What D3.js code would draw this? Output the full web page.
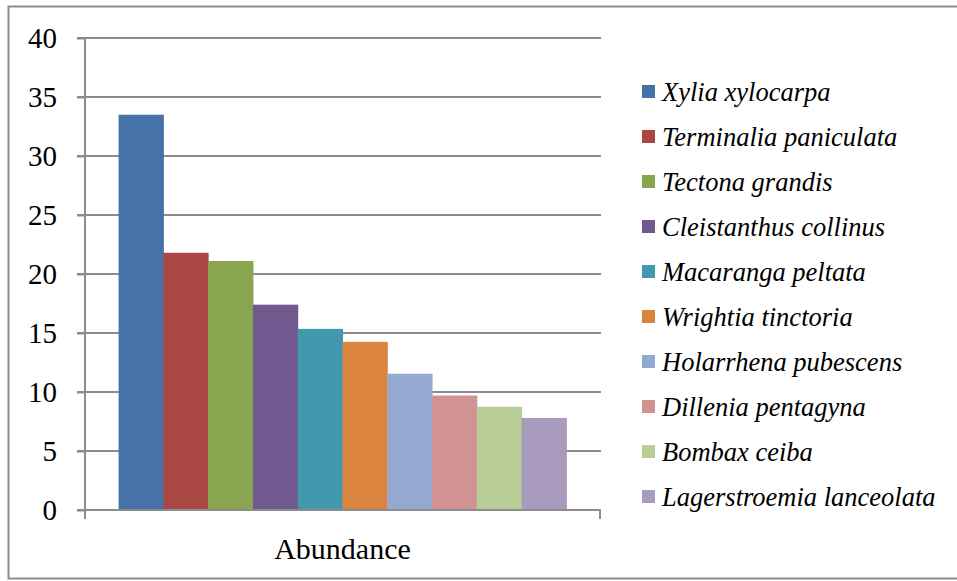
<!DOCTYPE html>
<html>
<head>
<meta charset="utf-8">
<script src="https://cdn.jsdelivr.net/npm/d3@7"></script>
<style>
  body { margin: 0; background: #fff; }
  svg text { font-family: "Liberation Serif", LiberationSerif, Tinos, "Times New Roman", "DejaVu Serif", "Noto Serif", FreeSerif, Times, serif; fill: #000; }
</style>
</head>
<body>
<div id="chart"></div>
<script>
var svgWidth = 957;
var svgHeight = 581;

// data
var species = ["Xylia xylocarpa", "Terminalia paniculata", "Tectona grandis",
  "Cleistanthus collinus", "Macaranga peltata", "Wrightia tinctoria",
  "Holarrhena pubescens", "Dillenia pentagyna", "Bombax ceiba",
  "Lagerstroemia lanceolata"];
var abundance = [33.5, 21.8, 21.1, 17.4, 15.35, 14.25, 11.55, 9.7, 8.75, 7.8];
var colors = ["#4572a7", "#aa4643", "#89a54e", "#71588f", "#4198af", "#db843d",
  "#93a9cf", "#d19392", "#b9cd96", "#a99bbd"];
var yTicks = [0, 5, 10, 15, 20, 25, 30, 35, 40];
var category = ["Abundance"];

var plot = { left: 85, right: 600, top: 38, bottom: 510 };

var svg = d3.select("#chart")
  .append("svg")
  .attr("width", svgWidth)
  .attr("height", svgHeight);

// outer frame
svg.append("rect")
  .attr("x", 8.5).attr("y", 6.5)
  .attr("width", 960).attr("height", 572)
  .attr("fill", "none")
  .attr("stroke", "#8c8c8c")
  .attr("stroke-width", 2);

var yScale = d3.scaleLinear()
  .domain([0, 40])
  .range([plot.bottom, plot.top]);

var x0 = d3.scaleBand()
  .domain(category)
  .range([plot.left, plot.right])
  .paddingInner(0)
  .paddingOuter(0.075);

var x1 = d3.scaleBand()
  .domain(species)
  .range([0, x0.bandwidth()])
  .padding(0);

// gridlines
svg.append("g")
  .selectAll("line")
  .data(yTicks)
  .enter()
  .append("line")
  .attr("x1", plot.left - 8)
  .attr("x2", plot.right + 1)
  .attr("y1", d => yScale(d))
  .attr("y2", d => yScale(d))
  .attr("stroke", "#8c8c8c")
  .attr("stroke-width", 2);

// bars
svg.append("g")
  .attr("transform", `translate(${x0(category[0])}, 0)`)
  .selectAll("rect")
  .data(abundance)
  .enter()
  .append("rect")
  .attr("x", (d, i) => x1(species[i]))
  .attr("y", d => yScale(d))
  .attr("width", x1.bandwidth() + 0.5)
  .attr("height", d => yScale(0) - yScale(d))
  .attr("fill", (d, i) => colors[i]);

// y axis
var leftAxis = d3.axisLeft(yScale)
  .tickValues(yTicks)
  .tickSize(8)
  .tickPadding(20);

var yAxisG = svg.append("g")
  .attr("transform", `translate(${plot.left}, 0)`)
  .call(leftAxis);
yAxisG.attr("font-family", null);
yAxisG.select(".domain").attr("stroke", "#8c8c8c").attr("stroke-width", 2)
  .attr("d", `M0,${plot.top}V${plot.bottom + 9}`);
yAxisG.selectAll(".tick line").attr("stroke", "#8c8c8c").attr("stroke-width", 2);
yAxisG.selectAll(".tick text")
  .attr("font-size", 29)
  .attr("fill", "#000")
  .attr("dy", "0.34em");

// x axis
var bottomAxis = d3.axisBottom(x0).tickSize(0).tickPadding(28);
var xAxisG = svg.append("g")
  .attr("transform", `translate(0, ${plot.bottom})`)
  .call(bottomAxis);
xAxisG.attr("font-family", null);
xAxisG.select(".domain").attr("stroke", "#8c8c8c").attr("stroke-width", 2)
  .attr("d", `M${plot.left},0H${plot.right}V9`);
xAxisG.selectAll(".tick text")
  .attr("font-size", 30)
  .attr("fill", "#000");

// legend
var legend = svg.append("g")
  .selectAll("g")
  .data(species)
  .enter()
  .append("g")
  .attr("transform", (d, i) => `translate(642, ${92 + i * 45})`);

legend.append("rect")
  .attr("x", 0).attr("y", -7)
  .attr("width", 13).attr("height", 13)
  .attr("fill", (d, i) => colors[i]);

legend.append("text")
  .attr("x", 20)
  .attr("y", 0)
  .attr("dy", "0.33em")
  .attr("font-size", 26.5)
  .attr("font-style", "italic")
  .text(d => d);
</script>
</body>
</html>
